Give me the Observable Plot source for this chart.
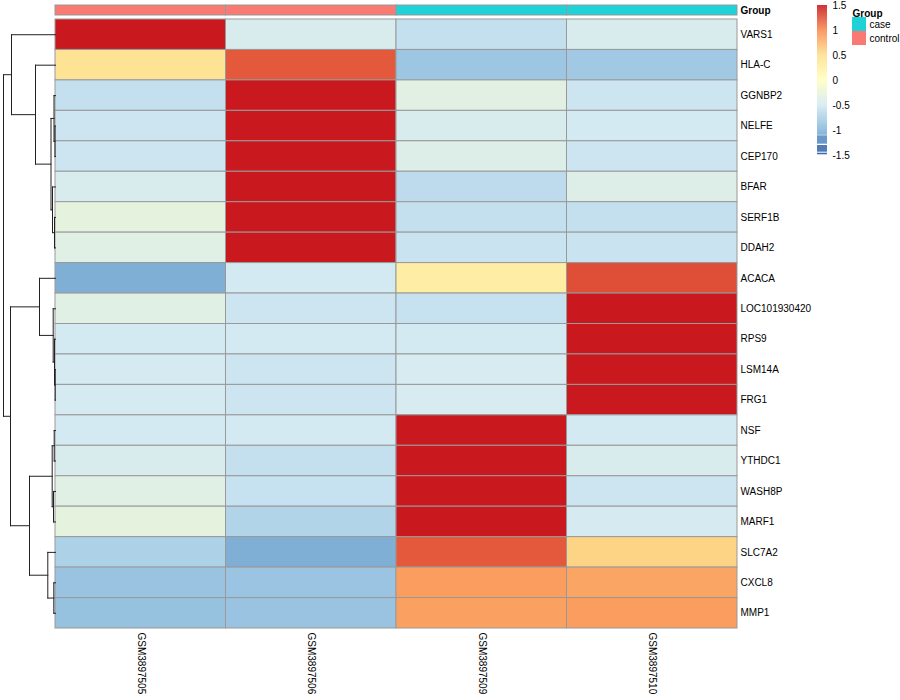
<!DOCTYPE html>
<html><head><meta charset="utf-8">
<script src="https://cdn.jsdelivr.net/npm/d3@7"></script>
<script src="https://cdn.jsdelivr.net/npm/@observablehq/plot@0.6"></script>
<style>
body{margin:0;background:#fff;}
#chart{position:relative;width:900px;height:700px;font-family:"Liberation Sans",Arial,Helvetica,sans-serif;}
#chart svg{position:absolute;overflow:visible;}
</style></head><body><div id="chart"></div>
<script>
// ---- data ----
const samples = ["GSM3897505","GSM3897506","GSM3897509","GSM3897510"];
const sampleGroups = ["control","control","case","case"];
const groupLevels = ["case","control"];
const groupColors = ["#1ED2D7","#F87A72"];
const genes = ["VARS1","HLA-C","GGNBP2","NELFE","CEP170","BFAR","SERF1B","DDAH2","ACACA","LOC101930420","RPS9","LSM14A","FRG1","NSF","YTHDC1","WASH8P","MARF1","SLC7A2","CXCL8","MMP1"];
const values = [
  [ 1.50, -0.45, -0.60, -0.45],
  [ 0.45,  1.22, -0.85, -0.82],
  [-0.60,  1.50, -0.35, -0.55],
  [-0.55,  1.50, -0.45, -0.50],
  [-0.55,  1.50, -0.40, -0.55],
  [-0.45,  1.50, -0.65, -0.40],
  [-0.30,  1.50, -0.60, -0.60],
  [-0.36,  1.50, -0.57, -0.57],
  [-1.05, -0.50,  0.28,  1.27],
  [-0.36, -0.55, -0.59,  1.50],
  [-0.50, -0.50, -0.50,  1.50],
  [-0.48, -0.55, -0.47,  1.50],
  [-0.48, -0.55, -0.47,  1.50],
  [-0.50, -0.50,  1.50, -0.50],
  [-0.45, -0.60,  1.50, -0.45],
  [-0.36, -0.59,  1.50, -0.55],
  [-0.30, -0.72,  1.50, -0.48],
  [-0.75, -1.05,  1.22,  0.58],
  [-0.88, -0.87,  0.90,  0.85],
  [-0.90, -0.88,  0.88,  0.90]
];
const colorStops = [-1.5,-1,-0.5,0,0.5,1,1.5];
const colorRange = ["#3E67A9","#86B7DA","#D4EAF3","#FFFFBF","#FEE090","#F98C52","#C9191E"];
const legendTicks = [-1.5,-1,-0.5,0,0.5,1,1.5];
// legend bar pieces (value ranges), as drawn by the reference
const legendGradient = [-1.094, 1.5];
const legendBlocks = [[-1.274,-1.106],[-1.434,-1.30],[-1.486,-1.454]];
// row dendrogram (hclust style: negative = leaf index, positive = merge index)
const merges = [[-12,-13],[-4,-5],[-7,-8],[-11,1],[-14,-15],[-3,2],[-19,-20],[-16,-17],[-10,4],[-6,3],[5,8],[6,10],[-18,7],[-9,9],[-2,12],[11,13],[-1,15],[14,16],[17,18]];
const mergeHeights = [0.3,0.5,1.0,1.0,1.3,1.5,1.7,2.0,2.3,3.0,3.3,4.5,7.7,16,20,26,44,45,52];

// ---- build ----
const chart = document.getElementById("chart");
const font = '"Liberation Sans",Arial,Helvetica,sans-serif';
function place(svg, left, top){ svg.style.left = left+"px"; svg.style.top = top+"px"; chart.appendChild(svg); }
const colorScale = {type:"linear", domain:colorStops, range:colorRange, interpolate:"rgb", clamp:true};

const cells = genes.flatMap((g,i)=>samples.map((s,j)=>({gene:g, sample:s, value:values[i][j]})));

const heat = Plot.plot({
  width:900, height:700, marginLeft:55, marginRight:163, marginTop:19, marginBottom:72,
  style:{background:"transparent", fontFamily:font, fontSize:"10px", color:"#000"},
  x:{domain:samples, padding:0, round:false, axis:null},
  y:{domain:genes, padding:0, round:false, axis:null},
  color:colorScale,
  marks:[
    Plot.cell(cells,{x:"sample", y:"gene", fill:"value", stroke:"#999", strokeWidth:1, inset:0}),
    Plot.axisY({anchor:"right", tickSize:0, tickPadding:3, label:null, fontSize:10}),
    Plot.axisX({anchor:"bottom", tickSize:0, tickPadding:4, tickRotate:90, label:null, fontSize:10})
  ]
});
place(heat,0,0);

// annotation bar
const annot = Plot.plot({
  width:900, height:19, marginLeft:55, marginRight:163, marginTop:5, marginBottom:4,
  style:{background:"transparent", fontFamily:font, fontSize:"10px", color:"#000"},
  x:{domain:samples, padding:0, round:false, axis:null},
  y:{domain:["Group"], padding:0, round:false, axis:null},
  color:{type:"ordinal", domain:groupLevels, range:groupColors},
  marks:[
    Plot.cell(samples,{x:d=>d, y:()=>"Group", fill:(d,i)=>sampleGroups[i], stroke:"#999", strokeWidth:1, inset:0}),
    Plot.axisY({anchor:"right", tickSize:0, tickPadding:3, label:null, fontWeight:"bold", fontSize:10})
  ]
});
place(annot,0,0);

// dendrogram
const nodes = [];
function nodeOf(k){ return k<0 ? {y:-k-0.5, h:0} : nodes[k-1]; }
const segs = [];
merges.forEach((m,i)=>{
  const a = nodeOf(m[0]), b = nodeOf(m[1]), h = mergeHeights[i];
  const n = {y:(a.y+b.y)/2, h};
  nodes.push(n);
  segs.push({x1:a.h, y1:a.y, x2:h, y2:a.y});
  segs.push({x1:b.h, y1:b.y, x2:h, y2:b.y});
  segs.push({x1:h, y1:a.y, x2:h, y2:b.y});
});
const dendro = Plot.plot({
  width:56, height:700, marginLeft:3, marginRight:1, marginTop:19, marginBottom:72,
  style:{background:"transparent"},
  x:{domain:[d3.max(mergeHeights),0], axis:null},
  y:{domain:[0,genes.length], reverse:true, axis:null},
  marks:[
    Plot.link(segs,{x1:"x1", y1:"y1", x2:"x2", y2:"y2", stroke:"#222", strokeWidth:1, strokeLinecap:"square"})
  ]
});
place(dendro,0,0);

// color legend
const step = 0.02;
const legendRects = d3.range(legendGradient[0], legendGradient[1], step)
  .map(v=>({lo:v, hi:Math.min(v+step*1.3, legendGradient[1]), v:v+step/2}))
  .concat(legendBlocks.map(([lo,hi])=>({lo, hi, v:(lo+hi)/2})));
const cleg = Plot.plot({
  width:60, height:165, marginLeft:0, marginRight:50, marginTop:5, marginBottom:10,
  style:{background:"transparent", fontFamily:font, fontSize:"10px", color:"#000"},
  y:{domain:[-1.5,1.5], axis:null},
  color:colorScale,
  marks:[
    Plot.rect(legendRects,{y1:"lo", y2:"hi", fill:"v"}),
    Plot.axisY({anchor:"right", ticks:legendTicks, tickSize:0, tickPadding:5, tickFormat:d=>String(d), label:null, fontSize:10})
  ]
});
place(cleg,817,0);

// group legend
const gleg = Plot.plot({
  width:60, height:48, marginLeft:2, marginRight:44, marginTop:17, marginBottom:3,
  style:{background:"transparent", fontFamily:font, fontSize:"10px", color:"#000"},
  y:{domain:groupLevels, padding:0, round:false, axis:null},
  color:{type:"ordinal", domain:groupLevels, range:groupColors},
  marks:[
    Plot.cell(groupLevels,{y:d=>d, fill:d=>d, inset:0}),
    Plot.axisY({anchor:"right", tickSize:0, tickPadding:3, label:null, fontSize:10}),
    Plot.text(["Group"],{frameAnchor:"top-left", dy:-8, text:d=>d, fontWeight:"bold", textAnchor:"start", fontSize:10})
  ]
});
place(gleg,850,0);
</script></body></html>
